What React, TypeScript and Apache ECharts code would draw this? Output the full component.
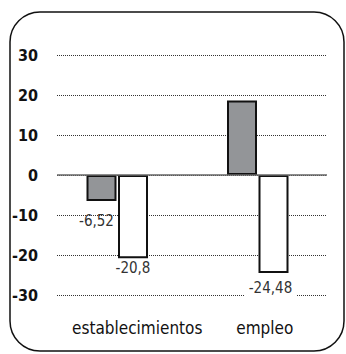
import React, { useEffect, useRef } from "react";
import * as echarts from "echarts";

const categories = ["establecimientos", "empleo"];
const graySeries = [-6.52, 18.6];
const whiteSeries = [-20.8, -24.48];
const showGrayLabel = [true, false];
const showWhiteLabel = [true, true];
const yTicks = { min: -30, max: 30, interval: 10 };

const FONT = "'Liberation Sans Narrow', 'DejaVu Sans Condensed', 'Roboto', sans-serif";

const fmt = (v: number) => String(v).replace(".", ",");

export default function App() {
  const ref = useRef<HTMLDivElement>(null);
  useEffect(() => {
    if (!ref.current) return;
    const chart = echarts.init(ref.current, null, { renderer: "svg" });
    chart.setOption({
      animation: false,
      backgroundColor: "#fff",
      graphic: [
        {
          type: "rect",
          shape: { x: 10, y: 12, width: 334, height: 339, r: 30 },
          style: { fill: "none", stroke: "#111", lineWidth: 1.5 },
          z: 0,
        },
      ],
      grid: [
        { left: 57, right: 19, top: 55, bottom: 59 },
        { left: 47, right: 18, top: 55, bottom: 59 },
      ],
      xAxis: [
        {
          type: "category",
          gridIndex: 0,
          data: categories,
          axisLine: { show: false },
          axisTick: { show: false },
          axisLabel: { show: false },
        },
        {
          type: "category",
          gridIndex: 1,
          data: categories,
          position: "bottom",
          axisLine: { show: false },
          axisTick: { show: false },
          axisLabel: {
            interval: 0,
            hideOverlap: false,
            margin: 24,
            fontFamily: FONT,
            fontSize: 17,
            color: "#111",
            formatter: (v: string) => (v === categories[0] ? `{a|${v}}` : `{b|${v}}`),
            rich: {
              a: { padding: [0, 0, 0, 40], fontFamily: FONT, fontSize: 17, color: "#111" },
              b: { padding: [0, 0, 0, 14], fontFamily: FONT, fontSize: 17, color: "#111" },
            },
          },
        },
      ],
      yAxis: [
        {
          type: "value",
          gridIndex: 0,
          min: yTicks.min,
          max: yTicks.max,
          interval: yTicks.interval,
          axisLine: { show: false },
          axisTick: { show: false },
          axisLabel: {
            margin: 19,
            fontFamily: FONT,
            fontSize: 16,
            fontWeight: "bold",
            color: "#111",
          },
          splitLine: {
            lineStyle: { color: "#333", type: [1, 1], width: 1 },
          },
        },
        {
          type: "value",
          gridIndex: 1,
          min: yTicks.min,
          max: yTicks.max,
          interval: yTicks.interval,
          show: false,
          splitLine: { show: false },
        },
      ],
      series: [
        {
          type: "line",
          xAxisIndex: 0,
          yAxisIndex: 0,
          data: [],
          markLine: {
            silent: true,
            symbol: "none",
            label: { show: false },
            lineStyle: { color: "#666", type: "solid", width: 1.5 },
            data: [{ yAxis: 0 }],
          },
        },
        {
          type: "bar",
          xAxisIndex: 1,
          yAxisIndex: 1,
          barWidth: 30,
          barGap: "5%",
          z: 3,
          itemStyle: { color: "#939598", borderColor: "#111", borderWidth: 2 },
          data: graySeries.map((v, i) => ({
            value: v,
            label: {
              show: showGrayLabel[i],
              position: "bottom",
              distance: 12,
              offset: [-5, 0],
              formatter: (p: any) => fmt(p.value),
              fontFamily: FONT,
              fontSize: 15,
              color: "#333",
            },
          })),
        },
        {
          type: "bar",
          xAxisIndex: 1,
          yAxisIndex: 1,
          barWidth: 30,
          z: 3,
          itemStyle: { color: "#fff", borderColor: "#111", borderWidth: 2 },
          data: whiteSeries.map((v, i) => ({
            value: v,
            label: {
              show: showWhiteLabel[i],
              position: "bottom",
              distance: i === 0 ? 2 : 8,
              offset: [i === 0 ? 0 : -3, 0],
              formatter: (p: any) => fmt(p.value),
              fontFamily: FONT,
              fontSize: 15,
              color: "#333",
              backgroundColor: "#fff",
              padding: [0, 4],
            },
          })),
        },
      ],
    });
    return () => chart.dispose();
  }, []);
  return (
    <div
      ref={ref}
      style={{ position: "fixed", left: 0, top: 0, width: 346, height: 354 }}
    />
  );
}
